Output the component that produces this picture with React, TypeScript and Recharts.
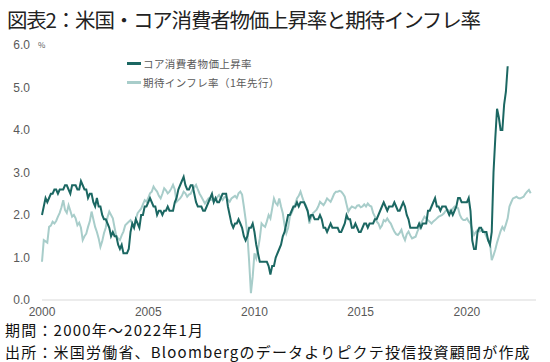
import { LineChart, Line, XAxis, YAxis, Legend } from "recharts";

const FONT = '"Noto Sans CJK JP", "Noto Sans", sans-serif';
const NUM_FONT = '"Liberation Sans", Arial, sans-serif';

const DARK = "#1b6762";
const LIGHT = "#a8cdca";

// monthly, from Jan 2000
const START_YEAR = 2000;
const xTicks = [2000, 2005, 2010, 2015, 2020];
const yTicks = [0, 1, 2, 3, 4, 5, 6];

const seriesNames = ["コア消費者物価上昇率", "期待インフレ率（1年先行）"];

// core CPI yoy, Jan 2000 - Dec 2021
const coreCpi = [
  2.0, 2.2, 2.4, 2.3, 2.4, 2.5, 2.5, 2.6, 2.6, 2.5, 2.6, 2.6,
  2.6, 2.7, 2.7, 2.6, 2.5, 2.7, 2.7, 2.7, 2.6, 2.6, 2.8, 2.7,
  2.6, 2.6, 2.4, 2.5, 2.5, 2.3, 2.2, 2.4, 2.2, 2.2, 2.0, 1.9,
  1.9, 1.8, 1.7, 1.5, 1.6, 1.5, 1.5, 1.3, 1.2, 1.3, 1.1, 1.1,
  1.1, 1.2, 1.6, 1.8, 1.7, 1.9, 1.8, 1.7, 2.0, 2.0, 2.2, 2.2,
  2.3, 2.4, 2.3, 2.2, 2.2, 2.0, 2.1, 2.1, 2.0, 2.1, 2.1, 2.2,
  2.1, 2.1, 2.1, 2.3, 2.4, 2.6, 2.7, 2.8, 2.9, 2.7, 2.6, 2.6,
  2.7, 2.7, 2.5, 2.3, 2.2, 2.2, 2.2, 2.1, 2.1, 2.2, 2.3, 2.4,
  2.5, 2.3, 2.4, 2.3, 2.3, 2.4, 2.5, 2.5, 2.5, 2.2, 2.0, 1.8,
  1.7, 1.8, 1.8, 1.9, 1.8, 1.7, 1.5, 1.4, 1.5, 1.7, 1.7, 1.8,
  1.6, 1.3, 1.1, 0.9, 0.9, 0.9, 0.9, 0.9, 0.8, 0.6, 0.8, 0.8,
  1.0, 1.1, 1.2, 1.3, 1.5, 1.6, 1.8, 2.0, 2.0, 2.1, 2.2, 2.2,
  2.3, 2.2, 2.3, 2.3, 2.3, 2.2, 2.1, 1.9, 2.0, 2.0, 1.9, 1.9,
  1.9, 2.0, 1.9, 1.7, 1.7, 1.6, 1.7, 1.8, 1.7, 1.7, 1.7, 1.7,
  1.6, 1.6, 1.7, 1.8, 2.0, 1.9, 1.9, 1.7, 1.7, 1.8, 1.7, 1.6,
  1.6, 1.7, 1.8, 1.8, 1.7, 1.8, 1.8, 1.8, 1.9, 1.9, 2.0, 2.1,
  2.2, 2.3, 2.2, 2.1, 2.2, 2.2, 2.2, 2.3, 2.2, 2.1, 2.1, 2.2,
  2.3, 2.2, 2.0, 1.9, 1.7, 1.7, 1.7, 1.7, 1.7, 1.8, 1.7, 1.8,
  1.8, 1.8, 2.1, 2.1, 2.2, 2.3, 2.4, 2.2, 2.2, 2.1, 2.2, 2.2,
  2.2, 2.1, 2.0, 2.1, 2.0, 2.1, 2.2, 2.4, 2.4, 2.3, 2.3, 2.3,
  2.3, 2.4, 2.1, 1.4, 1.2, 1.2, 1.6, 1.7, 1.7, 1.6, 1.6, 1.6,
  1.4, 1.3, 1.6, 3.0, 3.8, 4.5, 4.3, 4.0, 4.0, 4.6, 4.9, 5.5,
];

// expected inflation shifted 1 year ahead, Jan 2000 - Jan 2023
const inflExp = [
  0.90, 1.41, 1.38, 1.35, 1.72, 1.75, 1.84, 1.80, 1.86, 1.96, 2.05, 2.18,
  2.35, 2.12, 2.05, 2.23, 2.10, 1.96, 2.00, 1.92, 1.76, 1.82, 1.70, 1.41,
  1.50, 1.56, 1.72, 1.85, 2.08, 1.90, 1.72, 1.60, 1.45, 1.25, 1.38, 1.57,
  1.70, 1.95, 2.08, 2.00, 1.92, 1.70, 1.49, 1.45, 1.41, 1.52, 1.61, 1.76,
  1.80, 1.84, 1.88, 1.80, 1.72, 1.90, 2.04, 2.10, 2.15, 2.25, 2.35, 2.31,
  2.40, 2.51, 2.55, 2.67, 2.60, 2.55, 2.45, 2.39, 2.50, 2.63, 2.58, 2.51,
  2.55, 2.62, 2.71, 2.60, 2.31, 2.35, 2.39, 2.45, 2.55, 2.51, 2.43, 2.48,
  2.50, 2.60, 2.65, 2.71, 2.60, 2.50, 2.43, 2.35, 2.27, 2.33, 2.39, 2.35,
  2.37, 2.32, 2.35, 2.42, 2.47, 2.40, 2.35, 2.42, 2.43, 2.36, 2.31, 2.39,
  2.42, 2.45, 2.40, 2.51, 2.55, 2.48, 2.20, 1.90, 1.53, 0.90, 0.16, 0.55,
  1.10, 0.98, 1.20, 1.45, 1.80, 1.75, 1.72, 1.85, 2.00, 1.92, 2.15, 2.39,
  2.28, 2.23, 2.39, 2.20, 2.04, 1.76, 1.57, 1.70, 1.96, 2.05, 2.15, 2.25,
  2.39, 2.45, 2.55, 2.42, 2.30, 2.23, 2.12, 1.80, 1.95, 2.04, 2.08, 2.12,
  2.20, 2.31, 2.27, 2.23, 2.30, 2.39, 2.35, 2.31, 2.40, 2.50, 2.55, 2.55,
  2.57, 2.55, 2.50, 2.43, 2.25, 2.08, 2.15, 2.20, 2.18, 2.16, 2.22, 2.23,
  2.18, 2.20, 2.25, 2.20, 2.27, 2.22, 2.20, 2.05, 1.96, 1.85, 1.80, 1.69,
  1.75, 1.88, 1.85, 1.92, 1.85, 1.80, 1.70, 1.61, 1.55, 1.53, 1.58, 1.65,
  1.50, 1.41, 1.55, 1.61, 1.52, 1.45, 1.47, 1.49, 1.61, 1.70, 1.80, 1.88,
  1.96, 1.92, 1.88, 1.84, 1.80, 1.85, 1.88, 1.92, 1.96, 1.98, 2.00, 2.04,
  2.10, 2.12, 2.10, 2.08, 2.15, 2.20, 2.18, 2.16, 2.00, 1.92, 1.88, 1.88,
  1.92, 1.85, 1.80, 1.65, 1.53, 1.60, 1.65, 1.61, 1.63, 1.65, 1.58, 1.49,
  1.40, 1.33, 0.94, 1.05, 1.18, 1.35, 1.49, 1.62, 1.72, 1.65, 1.78, 1.92,
  2.20, 2.30, 2.39, 2.41, 2.43, 2.40, 2.39, 2.41, 2.43, 2.50, 2.55, 2.59,
  2.51,
];

const rows = inflExp.map((v, i) => ({
  t: START_YEAR + i / 12,
  core: i < coreCpi.length ? coreCpi[i] : null,
  exp: v,
}));

const axisTick = { fontSize: 12, fill: "#595959", fontFamily: NUM_FONT };

function LegendBox({ payload }: any) {
  const items = [...(payload || [])].sort(
    (a: any, b: any) => seriesNames.indexOf(a.value) - seriesNames.indexOf(b.value)
  );
  return (
    <div style={{ fontFamily: FONT }}>
      {items.map((it: any) => (
        <div key={it.value} style={{ display: "flex", alignItems: "center", height: 19, whiteSpace: "nowrap" }}>
          <span style={{ display: "inline-block", width: 14, height: 3, background: it.color, marginRight: 2 }} />
          <span style={{ fontSize: 10.5, letterSpacing: 0.4, color: "#595959", lineHeight: "19px" }}>{it.value}</span>
        </div>
      ))}
    </div>
  );
}

export default function App() {
  return (
    <div
      style={{
        position: "fixed",
        left: 0,
        top: 0,
        width: 550,
        height: 362,
        background: "#fff",
        fontFamily: FONT,
        overflow: "hidden",
      }}
    >
      <LineChart
        width={550}
        height={325}
        data={rows}
        margin={{ top: 45, right: 14, bottom: 0, left: 0 }}
        style={{ position: "absolute", left: 0, top: 0 }}
      >
        <XAxis
          dataKey="t"
          type="number"
          domain={[2000, 2023.25]}
          ticks={xTicks}
          tickLine={false}
          axisLine={{ stroke: "#d9d9d9" }}
          tick={axisTick}
          tickMargin={1}
          height={25}
        />
        <YAxis
          domain={[0, 6]}
          ticks={yTicks}
          tickFormatter={(v: number) => v.toFixed(1)}
          axisLine={false}
          tickLine={false}
          tick={axisTick}
          tickMargin={6}
          width={42}
        />
        <Legend
          verticalAlign="middle"
          align="center"
          layout="horizontal"
          wrapperStyle={{ left: 127, top: 54, width: 200 }}
          content={<LegendBox />}
        />
        <Line
          dataKey="exp"
          name={seriesNames[1]}
          stroke={LIGHT}
          strokeWidth={2}
          dot={false}
          isAnimationActive={false}
        />
        <Line
          dataKey="core"
          name={seriesNames[0]}
          stroke={DARK}
          strokeWidth={2}
          dot={false}
          isAnimationActive={false}
        />
      </LineChart>
      <div style={{ position: "absolute", left: 38, top: 39, fontSize: 8, color: "#595959" }}>%</div>
      <div
        style={{
          position: "absolute",
          left: 7,
          top: 6,
          fontSize: 20.5,
          letterSpacing: -1.2,
          lineHeight: "26px",
          color: "#222",
          whiteSpace: "nowrap",
        }}
      >
        図表2：米国・コア消費者物価上昇率と期待インフレ率
      </div>
      <div
        style={{
          position: "absolute",
          left: 5,
          top: 319,
          fontSize: 15,
          lineHeight: "21.5px",
          letterSpacing: 1.2,
          color: "#111",
          whiteSpace: "nowrap",
        }}
      >
        <div style={{ height: 21.5 }}>期間：2000年～2022年1月</div>
        <div style={{ height: 21.5 }}>出所：米国労働省、Bloombergのデータよりピクテ投信投資顧問が作成</div>
      </div>
    </div>
  );
}
